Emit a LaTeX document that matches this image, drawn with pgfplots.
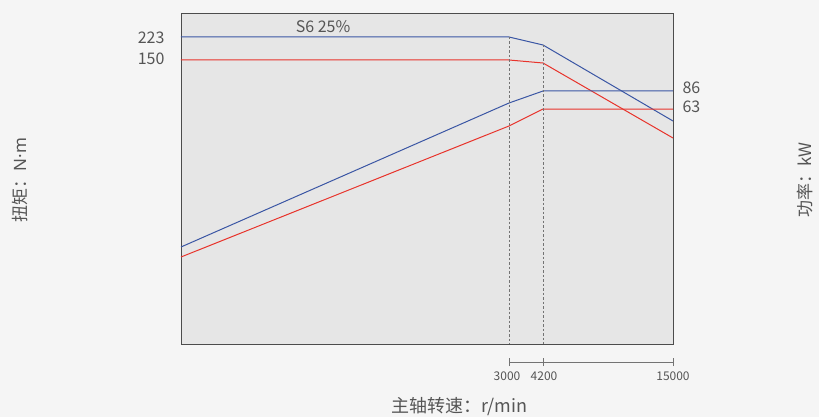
\documentclass[border=0pt]{standalone}
\usepackage{pgfplots}
\pgfplotsset{compat=1.18}
\usepackage{fontspec}
\setmainfont{Noto Sans CJK SC}
\newfontfamily\latinfont{Noto Sans}
\definecolor{bg}{HTML}{F5F5F5}
\definecolor{plotbg}{HTML}{E6E6E6}
\definecolor{tblue}{HTML}{3A56A4}
\definecolor{tred}{HTML}{E8332B}
\definecolor{txt}{HTML}{555555}
\begin{document}
\begin{tikzpicture}
\fill[bg] (0pt,0pt) rectangle (819pt,417pt);
\begin{axis}[at={(181pt,73pt)}, anchor=south west, scale only axis,
  width=492pt, height=331pt, xmin=181, xmax=673, ymin=73, ymax=404,
  axis background/.style={fill=plotbg},
  axis line style={draw=black!70, line width=0.8pt},
  xtick=\empty, ytick=\empty, clip=false]
% torque curves
\addplot[tblue, line width=1pt] coordinates {(181,380) (509,380) (543,372) (673,296)};
\addplot[tred, line width=1pt] coordinates {(181,357) (509,357) (543,354) (673,279)};
% power curves
\addplot[tblue, line width=1pt] coordinates {(181,170) (509,314) (543,326) (673,326)};
\addplot[tred, line width=1pt] coordinates {(181,160) (509,291) (543,308) (673,308)};
% dashed guides
\draw[black!55, dash pattern=on 2.5pt off 2pt, line width=0.6pt] (axis cs:509,380) -- (axis cs:509,73);
\draw[black!55, dash pattern=on 2.5pt off 2pt, line width=0.6pt] (axis cs:543,372) -- (axis cs:543,73);
% labels
\node[txt, anchor=east, font=\fontsize{16}{18}\selectfont] at (axis cs:168,379) {223};
\node[txt, anchor=east, font=\fontsize{16}{18}\selectfont] at (axis cs:168,358) {150};
\node[txt, anchor=west, font=\fontsize{16}{18}\selectfont] at (axis cs:679,329) {86};
\node[txt, anchor=west, font=\fontsize{16}{18}\selectfont] at (axis cs:679,310) {63};
\node[txt, font=\fontsize{16}{18}\selectfont] at (axis cs:323,390) {S6 25\%};
% tick bar
\draw[black!55, line width=0.8pt] (axis cs:509,55) -- (axis cs:673,55);
\draw[black!55, line width=0.8pt] (axis cs:509,51) -- (axis cs:509,59);
\draw[black!55, line width=0.8pt] (axis cs:543,51) -- (axis cs:543,59);
\draw[black!55, line width=0.8pt] (axis cs:673,51) -- (axis cs:673,59);
\node[txt, font=\fontsize{12}{14}\selectfont] at (axis cs:507,41) {3000};
\node[txt, font=\fontsize{12}{14}\selectfont] at (axis cs:544,41) {4200};
\node[txt, font=\fontsize{12}{14}\selectfont] at (axis cs:673,41) {15000};
% axis titles
\node[txt, font=\fontsize{18}{20}\selectfont] at (axis cs:459,10) {主轴转速：r/min};
\node[txt, rotate=90, font=\fontsize{17}{20}\selectfont] at (axis cs:20,237) {扭矩：{\latinfont N·m}};
\node[txt, rotate=90, font=\fontsize{17}{20}\selectfont] at (axis cs:805,237) {功率：kW};
\end{axis}
\end{tikzpicture}
\end{document}
